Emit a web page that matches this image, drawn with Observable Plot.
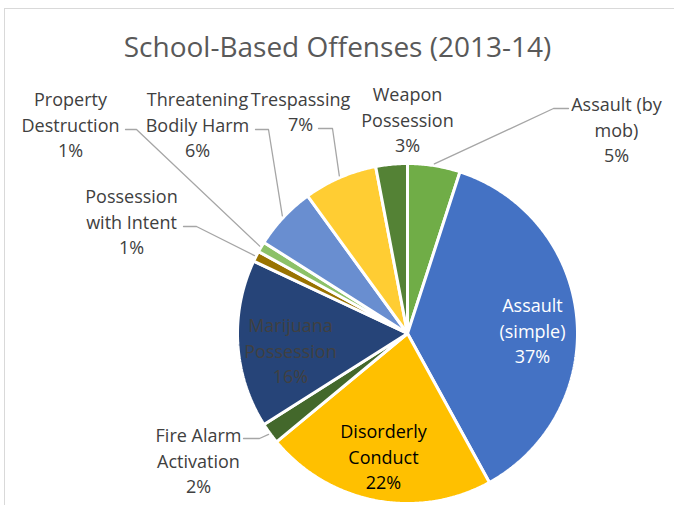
<!DOCTYPE html>
<html>
<head>
<meta charset="utf-8">
<script src="https://cdn.jsdelivr.net/npm/d3@7"></script>
<script src="https://cdn.jsdelivr.net/npm/@observablehq/plot@0.6"></script>
<style>
  html, body { margin: 0; padding: 0; background: #fff; overflow: hidden; }
  #wrap { position: relative; width: 674px; height: 505px; }
  #border { position: absolute; left: 4px; top: 8px; width: 720px; height: 600px;
            border-left: 1.5px solid #D9D9D9; border-top: 1.5px solid #D9D9D9; }
  #chart { position: absolute; left: 0; top: 0; }
</style>
</head>
<body>
<div id="wrap"><div id="border"></div><div id="chart"></div></div>
<script>
// ---- data ----
const title = "School-Based Offenses (2013-14)";
const categories = ["Assault (by mob)", "Assault (simple)", "Disorderly Conduct", "Fire Alarm Activation",
  "Marijuana Possession", "Possession with Intent", "Property Destruction", "Threatening Bodily Harm",
  "Trespassing", "Weapon Possession"];
const shares = [5, 37, 22, 2, 16, 1, 1, 6, 7, 3];
const labelNames = ["Assault (by\nmob)", "Assault\n(simple)", "Disorderly\nConduct", "Fire Alarm\nActivation",
  "Marijuana\nPossession", "Possession\nwith Intent", "Property\nDestruction", "Threatening\nBodily Harm",
  "Trespassing", "Weapon\nPossession"];
const colors = ["#70AD47", "#4472C4", "#FFC000", "#43682B", "#264478", "#997300", "#8CC168", "#698ED0", "#FFCD33", "#548235"];

// ---- layout (pixel frame) ----
const W = 674, H = 505, CX = 407, CY = 333, R = 170;
// label centres and leader elbows, in page pixels
const labelLayout = [
  {px: 616, py: 128, fill: "#404040", leader: [[568, 108], [553, 108]]},
  {px: 532, py: 329, fill: "#ffffff", leader: null},
  {px: 383, py: 455, fill: "#000000", leader: null},
  {px: 198, py: 459, fill: "#404040", leader: [[243, 438], [259, 438]]},
  {px: 290, py: 349, fill: "#404040", leader: null},
  {px: 131, py: 220, fill: "#404040", leader: [[183, 226], [196, 226]]},
  {px: 70,  py: 123, fill: "#404040", leader: [[125, 129], [136, 129]]},
  {px: 197, py: 123, fill: "#404040", leader: [[255, 129], [268, 129]]},
  {px: 300, py: 110, fill: "#404040", leader: [[318, 128], [332, 128]]},
  {px: 407, py: 118, fill: "#404040", leader: null}
];
const toX = px => px - CX, toY = py => CY - py;

// ---- slices from data ----
const total = d3.sum(shares);
let acc = 0;
const slices = categories.map((c, i) => {
  const a0 = acc / total * 2 * Math.PI;
  acc += shares[i];
  const a1 = acc / total * 2 * Math.PI;
  return {c, i, a0, a1, mid: (a0 + a1) / 2};
});
const polyPts = [];
for (const s of slices) {
  polyPts.push({c: s.c, x: 0, y: 0});
  const n = Math.max(2, Math.ceil((s.a1 - s.a0) / (Math.PI / 360)));
  for (let k = 0; k <= n; k++) {
    const a = s.a0 + (s.a1 - s.a0) * k / n;
    polyPts.push({c: s.c, x: R * Math.sin(a), y: R * Math.cos(a)});
  }
}
const labels = slices.map(s => ({
  text: labelNames[s.i] + "\n" + shares[s.i] + "%",
  x: toX(labelLayout[s.i].px), y: toY(labelLayout[s.i].py), fill: labelLayout[s.i].fill
}));
const leaderPts = [];
for (const s of slices) {
  const L = labelLayout[s.i].leader;
  if (!L) continue;
  for (const [px, py] of L) leaderPts.push({c: s.c, x: toX(px), y: toY(py)});
  leaderPts.push({c: s.c, x: R * 1.01 * Math.sin(s.mid), y: R * 1.01 * Math.cos(s.mid)});
}

const chart = Plot.plot({
  width: W, height: H, margin: 0,
  x: {domain: [-CX, W - CX], axis: null},
  y: {domain: [CY - H, CY], axis: null},
  color: {domain: categories, range: colors},
  style: {background: "transparent", fontFamily: "'Open Sans', sans-serif"},
  marks: [
    Plot.line(polyPts, {x: "x", y: "y", z: "c", fill: "c", stroke: "white", strokeWidth: 3,
      strokeLinejoin: "miter", curve: "linear-closed"}),
    Plot.line(leaderPts, {x: "x", y: "y", z: "c", stroke: "#A6A6A6", strokeWidth: 1.3, curve: "linear"}),
    Plot.text(labels, {x: "x", y: "y", text: "text", fill: d => d.fill, fontSize: 18,
      lineHeight: 1.42, textAnchor: "middle", lineAnchor: "middle"}),
    Plot.text([title], {frameAnchor: "top", dy: 48, text: d => d, fontSize: 28, fill: "#595959",
      lineAnchor: "middle"})
  ]
});
document.getElementById("chart").appendChild(chart);
</script>
</body>
</html>
